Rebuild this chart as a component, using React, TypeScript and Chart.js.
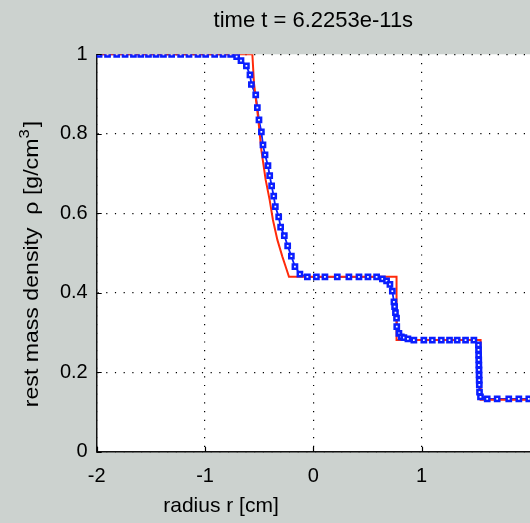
import React, { useEffect, useRef } from "react";
import { Chart, registerables } from "chart.js";

Chart.register(...registerables);

// ---- data ----
const TITLE = "time t = 6.2253e-11s";
const X_LABEL = "radius r [cm]";
const Y_LABEL_MAIN = "rest mass density  \u03c1 [g/cm";
const Y_LABEL_SUP = "3";
const Y_LABEL_END = "]";

const xTickValues = [-2, -1, 0, 1];
const xTickLabels = ["-2", "-1", "0", "1"];
const yTickValues = [0, 0.2, 0.4, 0.6, 0.8, 1];
const yTickLabels = ["0", "0.2", "0.4", "0.6", "0.8", "1"];

// exact solution (red)
const exactR = [-2, -0.563, -0.548, -0.511, -0.48, -0.44, -0.403, -0.373, -0.332, -0.286, -0.256, -0.225, 0.768, 0.768, 1.544, 1.544, 2.0];
const exactRho = [1, 1, 0.927, 0.843, 0.759, 0.684, 0.633, 0.583, 0.533, 0.491, 0.466, 0.44, 0.44, 0.281, 0.281, 0.131, 0.131];

// numerical solution (blue squares)
const numR = [
  -1.978, -1.9, -1.815, -1.738, -1.661, -1.593, -1.522, -1.452, -1.384, -1.308, -1.225, -1.148, -1.065, -0.994, -0.911, -0.834, -0.763,
  -0.708, -0.668, -0.618, -0.585, -0.572, -0.532, -0.517, -0.502, -0.48, -0.465, -0.446, -0.419, -0.403, -0.385, -0.366, -0.351,
  -0.32, -0.302, -0.268, -0.237, -0.203, -0.17, -0.124, -0.055, 0.028, 0.107, 0.221, 0.328, 0.421, 0.504, 0.584,
  0.637, 0.676, 0.707, 0.729, 0.744, 0.75, 0.758, 0.768, 0.77, 0.79, 0.812, 0.836, 0.873, 0.928,
  1.02, 1.098, 1.181, 1.257, 1.328, 1.405, 1.482,
  1.524, 1.525, 1.526, 1.527, 1.528, 1.529, 1.53, 1.531, 1.532, 1.534, 1.543,
  1.605, 1.697, 1.804, 1.897, 1.989,
];
const numRho = [
  1, 1, 1, 1, 1, 1, 1, 1, 1, 1, 1, 1, 1, 1, 1, 1, 1,
  0.994, 0.984, 0.971, 0.948, 0.924, 0.898, 0.866, 0.835, 0.805, 0.772, 0.747, 0.72, 0.695, 0.669, 0.643, 0.617,
  0.591, 0.565, 0.544, 0.518, 0.492, 0.466, 0.447, 0.44, 0.44, 0.44, 0.44, 0.44, 0.44, 0.44, 0.44,
  0.435, 0.43, 0.421, 0.404, 0.377, 0.365, 0.35, 0.336, 0.315, 0.298, 0.289, 0.287, 0.284, 0.281,
  0.281, 0.281, 0.281, 0.281, 0.281, 0.281, 0.281,
  0.269, 0.256, 0.243, 0.231, 0.218, 0.206, 0.193, 0.18, 0.168, 0.15, 0.138,
  0.133, 0.133, 0.133, 0.133, 0.133,
];

// ---- styles ----
const BG = "#ccd2cf";
const BLUE = "#0a1eff";
const RED = "#ff2a0a";
const FONT = "'Liberation Sans', Arial, sans-serif";
const W = 530;
const H = 523;

const decor = {
  id: "decor",
  beforeDraw(chart: any) {
    const { ctx, chartArea: a } = chart;
    ctx.save();
    ctx.fillStyle = BG;
    ctx.fillRect(0, 0, chart.width, chart.height);
    ctx.fillStyle = "#ffffff";
    ctx.fillRect(a.left, a.top, a.right - a.left, a.bottom - a.top);
    ctx.restore();
  },
  afterDraw(chart: any) {
    const { ctx, chartArea: a, scales } = chart;
    ctx.save();
    ctx.strokeStyle = "#000";
    ctx.lineWidth = 1.2;
    ctx.beginPath();
    xTickValues.forEach((v) => {
      const px = Math.round(scales.x.getPixelForValue(v)) + 0.5;
      ctx.moveTo(px, a.bottom);
      ctx.lineTo(px, a.bottom - 5);
    });
    yTickValues.forEach((v) => {
      const py = Math.round(scales.y.getPixelForValue(v)) + 0.5;
      ctx.moveTo(a.left, py);
      ctx.lineTo(a.left + 5, py);
    });
    ctx.stroke();

    ctx.fillStyle = "#000";
    ctx.textAlign = "center";
    ctx.textBaseline = "middle";
    ctx.font = `22px ${FONT}`;
    ctx.fillText(TITLE, (a.left + a.right) / 2, 21);
    ctx.font = `21px ${FONT}`;
    ctx.fillText(X_LABEL, 221, 506);

    // rotated y label, stretched along its length like the reference font
    ctx.translate(31, 264);
    ctx.rotate(-Math.PI / 2);
    ctx.scale(1.1, 1);
    ctx.textAlign = "left";
    ctx.textBaseline = "alphabetic";
    ctx.font = `21px ${FONT}`;
    const wMain = ctx.measureText(Y_LABEL_MAIN).width;
    ctx.font = `15px ${FONT}`;
    const wSup = ctx.measureText(Y_LABEL_SUP).width;
    ctx.font = `21px ${FONT}`;
    const wEnd = ctx.measureText(Y_LABEL_END).width;
    const total = wMain + wSup + 2 + wEnd;
    let x0 = -total / 2;
    const base = 7;
    ctx.fillText(Y_LABEL_MAIN, x0, base);
    x0 += wMain;
    ctx.font = `15px ${FONT}`;
    ctx.fillText(Y_LABEL_SUP, x0, base - 9);
    x0 += wSup + 2;
    ctx.font = `21px ${FONT}`;
    ctx.fillText(Y_LABEL_END, x0, base);
    ctx.restore();
  },
};

export default function App() {
  const ref = useRef<HTMLCanvasElement | null>(null);
  useEffect(() => {
    const canvas = ref.current;
    if (!canvas) return;
    const chart = new Chart(canvas, {
      type: "scatter",
      data: {
        datasets: [
          {
            label: "numerical markers",
            data: numR.map((r, i) => ({ x: r, y: numRho[i] })),
            showLine: false,
            pointStyle: "rect",
            pointRadius: 3,
            pointBorderWidth: 2.5,
            pointBorderColor: BLUE,
            pointBackgroundColor: "#ffffff",
            borderColor: BLUE,
            backgroundColor: "#ffffff",
          },
          {
            label: "exact",
            data: exactR.map((r, i) => ({ x: r, y: exactRho[i] })),
            showLine: true,
            pointRadius: 0,
            borderColor: RED,
            borderWidth: 2,
            fill: false,
          },
          {
            label: "numerical line",
            data: numR.map((r, i) => ({ x: r, y: numRho[i] })),
            showLine: true,
            pointRadius: 0,
            borderColor: BLUE,
            borderWidth: 1.8,
            fill: false,
          },
        ],
      },
      options: {
        animation: false,
        responsive: false,
        events: [],
        layout: { autoPadding: false, padding: { top: 54.3, right: 0, left: 0, bottom: 0 } },
        plugins: { legend: { display: false }, tooltip: { enabled: false }, title: { display: false } },
        scales: {
          x: {
            type: "linear",
            min: -2,
            max: 2,
            afterBuildTicks: (s: any) => {
              s.ticks = xTickValues.map((v) => ({ value: v }));
            },
            afterFit: (s: any) => {
              s.height = 71.3;
              s.paddingLeft = 0;
              s.paddingRight = 0;
            },
            ticks: {
              autoSkip: false,
              maxRotation: 0,
              padding: 13,
              color: "#000",
              font: { family: FONT, size: 20 },
              callback: (v: any) => {
                const i = xTickValues.indexOf(Number(v));
                return i >= 0 ? xTickLabels[i] : "";
              },
            },
            grid: { color: "#000", lineWidth: 1.2, drawTicks: false },
            border: { display: true, color: "#111", width: 1.5, dash: [1.2, 7.5] },
          },
          y: {
            type: "linear",
            min: 0,
            max: 1,
            afterBuildTicks: (s: any) => {
              s.ticks = yTickValues.map((v) => ({ value: v }));
            },
            afterFit: (s: any) => {
              s.width = 96.7;
              s.paddingTop = 0;
              s.paddingBottom = 0;
            },
            ticks: {
              autoSkip: false,
              padding: 9,
              color: "#000",
              font: { family: FONT, size: 20 },
              callback: (v: any) => {
                const i = yTickValues.findIndex((t) => Math.abs(t - Number(v)) < 1e-9);
                return i >= 0 ? yTickLabels[i] : "";
              },
            },
            grid: { color: "#000", lineWidth: 1.2, drawTicks: false },
            border: { display: true, color: "#111", width: 1.5, dash: [1.2, 7.5] },
          },
        },
      },
      plugins: [decor],
    });
    return () => chart.destroy();
  }, []);
  return (
    <div style={{ position: "fixed", left: 0, top: 0, width: W, height: H, background: BG, overflow: "hidden" }}>
      <canvas ref={ref} width={W} height={H} style={{ display: "block" }} />
    </div>
  );
}
